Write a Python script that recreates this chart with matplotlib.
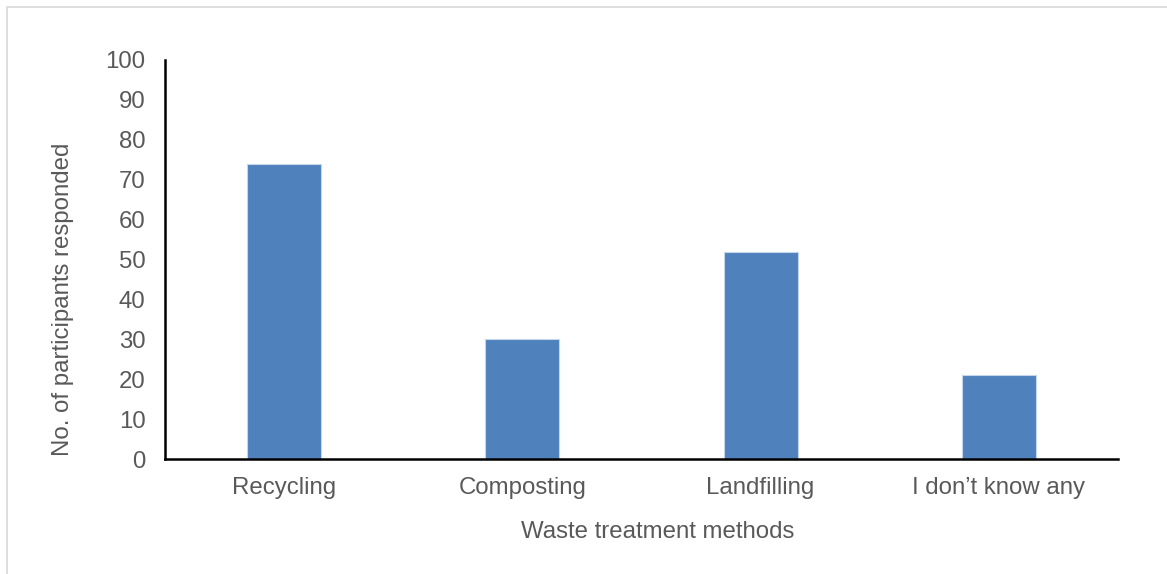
import matplotlib.pyplot as plt
from matplotlib.patches import Rectangle

# survey responses per waste treatment method
methods = ['Recycling', 'Composting', 'Landfilling', 'I don\u2019t know any']
responses = [74, 30, 52, 21]
y_ticks = list(range(0, 101, 10))

plt.rcParams['font.family'] = ['Liberation Sans', 'DejaVu Sans']
FS = 17.3
GRAY = '#595959'

fig = plt.figure(figsize=(11.67, 5.74), dpi=100)
ax = fig.add_axes([165 / 1167, 1 - 459 / 574, (1118 - 165) / 1167, (459 - 60) / 574])

# thin gray frame around the chart area
fig.patches.append(Rectangle((6.5 / 1167, -0.1), 1.2, 1 - 7.5 / 574 + 0.1,
                             transform=fig.transFigure, fill=False,
                             edgecolor='#d9d9d9', linewidth=1.2))

x = range(len(methods))
ax.bar(x, responses, width=0.31, color='#4f81bd', edgecolor='#c5d5ea', linewidth=0.8)

ax.set_xlim(-0.5, len(methods) - 0.5)
ax.set_ylim(0, 100)
ax.set_yticks(y_ticks)
ax.set_xticks(list(x))
ax.set_xticklabels(methods)

ax.spines['top'].set_visible(False)
ax.spines['right'].set_visible(False)
for s in ('left', 'bottom'):
    ax.spines[s].set_linewidth(1.8)
    ax.spines[s].set_color('black')
ax.tick_params(axis='both', length=0, labelsize=FS, colors=GRAY)
ax.tick_params(axis='y', pad=14)
ax.tick_params(axis='x', pad=13)

ax.set_xlabel('Waste treatment methods', fontsize=FS, color=GRAY, va='center')
ax.xaxis.set_label_coords(0.517, -(532 - 459) / 399)
ax.set_ylabel('No. of participants responded', fontsize=FS, color=GRAY, va='center')
ax.yaxis.set_label_coords((63 - 165) / 953, (459 - 299) / 399)

fig.savefig('out.png', dpi=100)
